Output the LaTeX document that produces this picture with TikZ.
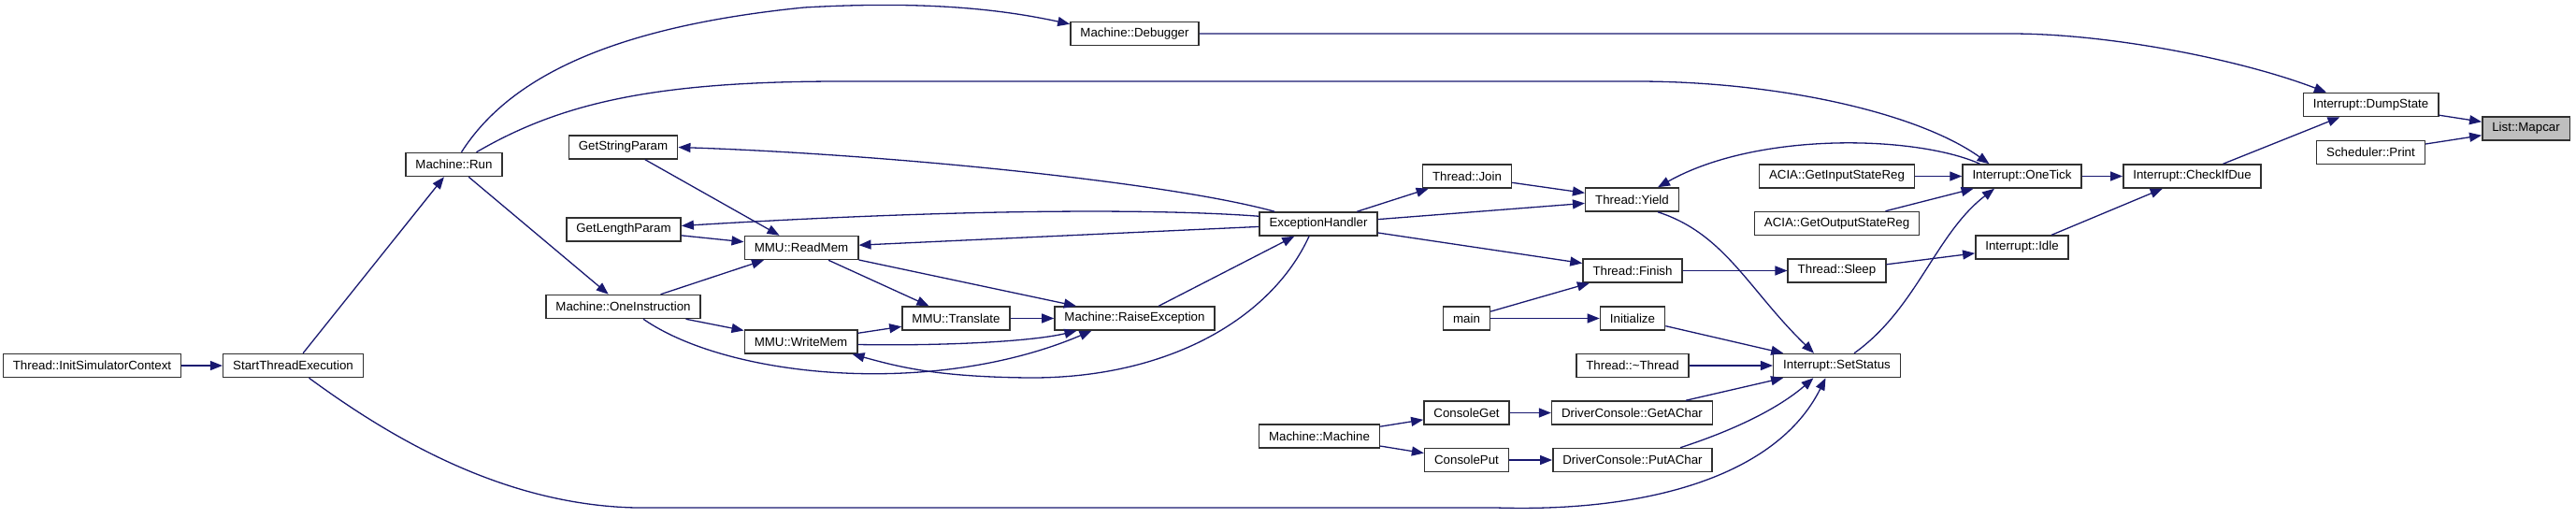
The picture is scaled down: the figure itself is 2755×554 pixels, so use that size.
\documentclass[tikz,border=0pt]{standalone}
\usepackage{fontspec}
\setmainfont{Liberation Sans}
\usetikzlibrary{arrows.meta}
\definecolor{callline}{RGB}{25,25,112}
\definecolor{rootfill}{RGB}{191,191,191}
\definecolor{boxline}{RGB}{48,48,48}

\tikzset{
  fn/.style={draw=boxline, line width=1.5pt, fill=white, inner xsep=10.5pt, inner ysep=0pt,
             minimum height=25pt, font=\fontsize{13.3}{15}\selectfont},
  root/.style={fn, fill=rootfill},
  call/.style={draw=callline, line width=1.3pt, -{Triangle[length=13pt,width=10pt]}}
}

\begin{document}
\begin{tikzpicture}[x=1pt,y=-1pt]
\useasboundingbox (0,0) rectangle (2755,554);

% functions
\node[fn] (init)      at (98.5,391)   {Thread::InitSimulatorContext};
\node[fn] (start)     at (313.5,391)  {StartThreadExecution};
\node[fn] (run)       at (485.5,176)  {Machine::Run};
\node[fn] (getstr)    at (666.5,157.5){GetStringParam};
\node[fn] (getlen)    at (667,245.5)  {GetLengthParam};
\node[fn] (readmem)   at (857,265)    {MMU::ReadMem};
\node[fn] (oneinst)   at (666.5,328)  {Machine::OneInstruction};
\node[fn] (writemem)  at (856.5,365.5){MMU::WriteMem};
\node[fn] (translate) at (1022.5,340.5){MMU::Translate};
\node[fn] (raise)     at (1213.5,340.5){Machine::RaiseException};
\node[fn] (debugger)  at (1213.5,36)  {Machine::Debugger};
\node[fn] (exchandler) at (1410,239.5){ExceptionHandler};
\node[fn] (join)      at (1569,188.5) {Thread::Join};
\node[fn] (yield)     at (1745.5,213.5){Thread::Yield};
\node[fn] (finish)    at (1746,289.5) {Thread::Finish};
\node[fn] (main)      at (1568.5,340.5){main};
\node[fn] (initialize) at (1746,340.5){Initialize};
\node[fn] (dtor)      at (1746,391)   {Thread::\textasciitilde Thread};
\node[fn] (machine)   at (1411,466.5) {Machine::Machine};
\node[fn] (consget)   at (1568.5,441.5){ConsoleGet};
\node[fn] (consput)   at (1568.5,492) {ConsolePut};
\node[fn] (getachar)  at (1745.5,441.5){DriverConsole::GetAChar};
\node[fn] (putachar)  at (1746,492)   {DriverConsole::PutAChar};
\node[fn] (sleep)     at (1964.5,289.5){Thread::Sleep};
\node[fn] (setstatus) at (1964.5,391) {Interrupt::SetStatus};
\node[fn] (getin)     at (1964.5,188.5){ACIA::GetInputStateReg};
\node[fn] (getout)    at (1964.5,239) {ACIA::GetOutputStateReg};
\node[fn] (onetick)   at (2162.5,188.5){Interrupt::OneTick};
\node[fn] (idle)      at (2162.5,264.5){Interrupt::Idle};
\node[fn] (checkdue)  at (2344.5,188.5){Interrupt::CheckIfDue};
\node[fn] (dump)      at (2535.5,112) {Interrupt::DumpState};
\node[fn] (print)     at (2535.5,163) {Scheduler::Print};
\node[root] (mapcar)  at (2701.5,137.5){List::Mapcar};

% calls
\draw[call] (init) -- (start);
\draw[call] (start) -- (run);
\draw[call] (run) -- (oneinst);
\draw[call] ([xshift=8pt]run.north) .. controls (540,90) and (640,30) .. (860,8)
            .. controls (1000,0) and (1080,12) .. ([yshift=-3pt]debugger.north west);
\draw[call] ([xshift=24pt]run.north) .. controls (600,110) and (700,87) .. (900,87) -- (1750,87)
            .. controls (1900,87) and (2050,120) .. ([xshift=-35pt]onetick.north);
\draw[call] ([xshift=17pt]start.south) .. controls (420,470) and (540,540) .. (680,543) -- (1600,543)
            .. controls (1760,548) and (1900,510) .. ([xshift=-12pt]setstatus.south);
\draw[call] (getstr) -- (readmem);
\draw[call] (getlen) -- (readmem);
\draw[call] ([xshift=17pt]exchandler.north west) .. controls (1250,195) and (950,165) .. (getstr.east);
\draw[call] ([yshift=-5pt]exchandler.north west) .. controls (1250,224) and (1050,222) .. ([yshift=4pt]getlen.east);
\draw[call] (exchandler) -- (readmem);
\draw[call] (oneinst) -- (readmem);
\draw[call] (oneinst) -- (writemem);
\draw[call] ([xshift=21.5pt]oneinst.south) .. controls (780,405) and (1000,425) .. ([xshift=-46pt]raise.south);
\draw[call] (readmem) -- (translate);
\draw[call] (readmem) -- (raise);
\draw[call] (writemem) -- (translate);
\draw[call] ([yshift=-3pt]writemem.east) .. controls (1000,370) and (1100,366) .. ([xshift=-62pt]raise.south);
\draw[call] (translate) -- (raise);
\draw[call] (raise) -- (exchandler);
\draw[call] ([xshift=-10pt]exchandler.south) .. controls (1360,340) and (1250,405) .. (1100,404)
            .. controls (1000,403) and (960,392) .. ([xshift=-6pt]writemem.south east);
\draw[call] (exchandler) -- (join);
\draw[call] (exchandler) -- (yield);
\draw[call] (exchandler) -- (finish);
\draw[call] (join) -- (yield);
\draw[call] ([xshift=-45pt]onetick.north) .. controls (2050,145) and (1880,140) .. ([xshift=27.5pt]yield.north);
\draw[call] ([xshift=27.5pt]yield.south) .. controls (1845,250) and (1870,310) .. ([xshift=-24.5pt]setstatus.north);
\draw[call] (finish) -- (sleep);
\draw[call] (sleep) -- (idle);
\draw[call] (main) -- (finish);
\draw[call] (main) -- (initialize);
\draw[call] (initialize) -- (setstatus);
\draw[call] (dtor) -- (setstatus);
\draw[call] (machine) -- (consget);
\draw[call] (machine) -- (consput);
\draw[call] (consget) -- (getachar);
\draw[call] (consput) -- (putachar);
\draw[call] (getachar) -- (setstatus);
\draw[call] ([xshift=51pt]putachar.north) .. controls (1870,455) and (1910,430) .. ([xshift=-25pt]setstatus.south);
\draw[call] ([xshift=18.5pt]setstatus.north) .. controls (2050,330) and (2070,250) .. ([xshift=-29.5pt]onetick.south);
\draw[call] (getin) -- (onetick);
\draw[call] (getout) -- (onetick);
\draw[call] (onetick) -- (checkdue);
\draw[call] (idle) -- (checkdue);
\draw[call] (checkdue) -- (dump);
\draw[call] (debugger.east) -- (2150,36) .. controls (2260,36) and (2400,65) .. ([xshift=-47.5pt]dump.north);
\draw[call] (dump) -- (mapcar);
\draw[call] (print) -- (mapcar);
\end{tikzpicture}
\end{document}
